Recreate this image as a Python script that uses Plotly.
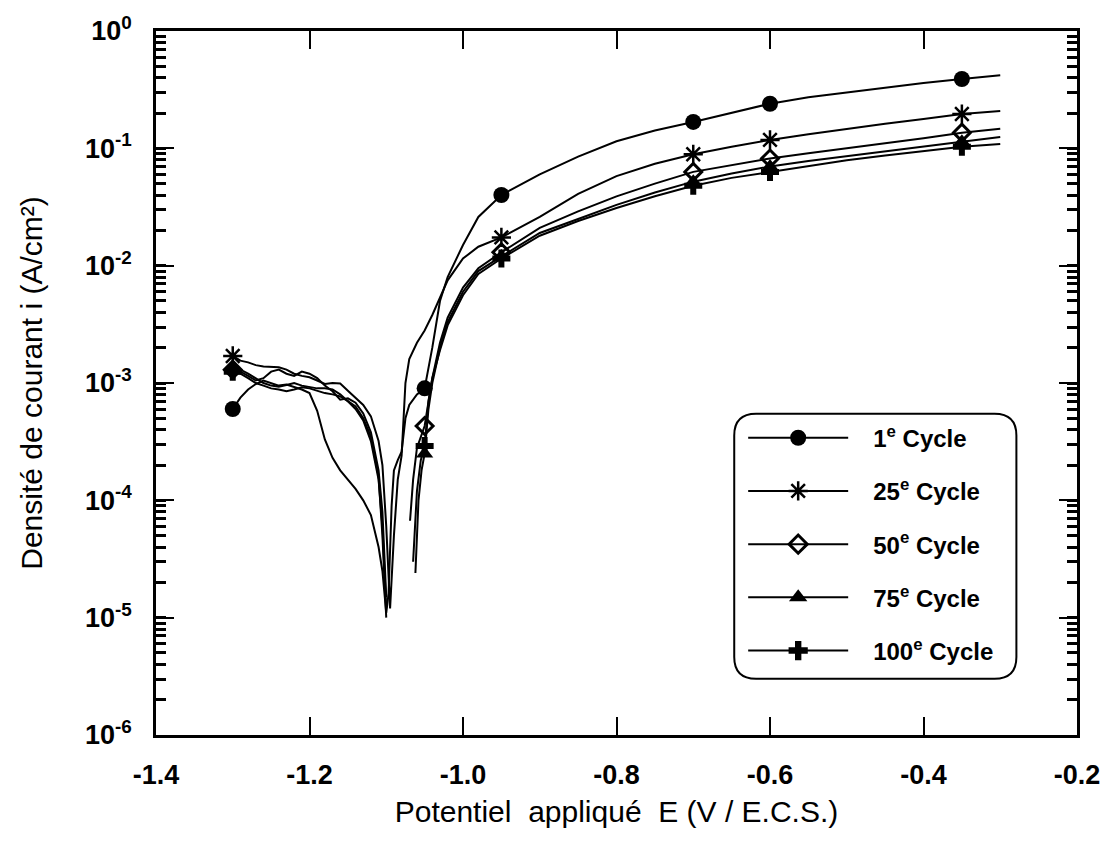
import plotly.graph_objects as go

# Potentiodynamic polarisation curves
E_1 = [-1.30, -1.29, -1.28, -1.27, -1.26, -1.25, -1.24, -1.23, -1.22, -1.21,
       -1.20, -1.19, -1.18, -1.17, -1.16, -1.15, -1.14, -1.13, -1.12, -1.11,
       -1.105, -1.10, -1.097, -1.093, -1.09, -1.085, -1.08, -1.075, -1.07, -1.06,
       -1.05, -1.04, -1.03, -1.02, -1.00, -0.98, -0.95, -0.90, -0.85, -0.80,
       -0.75, -0.70, -0.65, -0.60, -0.55, -0.50, -0.45, -0.40, -0.35, -0.30]
I_1 = [6.0e-4, 7.5e-4, 8.8e-4, 9.8e-4, 1.05e-3, 1.0e-3, 9.5e-4, 9.7e-4, 9.2e-4, 8.8e-4,
       8.2e-4, 5.8e-4, 3.3e-4, 2.3e-4, 1.8e-4, 1.5e-4, 1.25e-4, 1.0e-4, 7.5e-5, 4.0e-5,
       2.5e-5, 1.1e-5, 1.6e-5, 9e-5, 1.8e-4, 2.2e-4, 2.6e-4, 5.0e-4, 6.5e-4, 8.0e-4,
       9.0e-4, 2.0e-3, 5.0e-3, 8.0e-3, 1.5e-2, 2.6e-2, 4.0e-2, 6.0e-2, 8.5e-2, 1.15e-1,
       1.42e-1, 1.68e-1, 2.0e-1, 2.4e-1, 2.72e-1, 3.0e-1, 3.3e-1, 3.6e-1, 3.9e-1, 4.2e-1]

E_25 = [-1.30, -1.29, -1.28, -1.27, -1.26, -1.25, -1.24, -1.23, -1.22, -1.21,
        -1.20, -1.19, -1.18, -1.17, -1.16, -1.15, -1.14, -1.13, -1.12, -1.11,
        -1.105, -1.10, -1.095, -1.09, -1.085, -1.08, -1.075, -1.07, -1.06, -1.05,
        -1.04, -1.02, -1.00, -0.98, -0.95, -0.90, -0.85, -0.80, -0.75, -0.70,
        -0.65, -0.60, -0.55, -0.50, -0.45, -0.40, -0.35, -0.30]
I_25 = [1.7e-3, 1.55e-3, 1.5e-3, 1.42e-3, 1.38e-3, 1.37e-3, 1.36e-3, 1.3e-3, 1.2e-3, 1.15e-3,
        1.12e-3, 1.05e-3, 9.8e-4, 1.0e-3, 9.9e-4, 8.6e-4, 7.5e-4, 6.5e-4, 5.2e-4, 3.2e-4,
        2.0e-4, 6e-5, 1.2e-5, 5e-5, 1.5e-4, 2.4e-4, 1.0e-3, 1.6e-3, 2.2e-3, 2.8e-3,
        3.8e-3, 7.5e-3, 1.15e-2, 1.45e-2, 1.74e-2, 2.6e-2, 4.1e-2, 5.8e-2, 7.4e-2, 8.9e-2,
        1.03e-1, 1.18e-1, 1.32e-1, 1.47e-1, 1.62e-1, 1.78e-1, 1.96e-1, 2.08e-1]

# cathodic branch (shared potentials) for the later cycles
E_CATH = [-1.30, -1.29, -1.28, -1.27, -1.26, -1.25, -1.24, -1.23, -1.22, -1.21,
          -1.20, -1.19, -1.18, -1.17, -1.16, -1.15, -1.14, -1.13, -1.12, -1.11,
          -1.105, -1.10]

I_50_CATH = [1.3e-3, 1.25e-3, 1.15e-3, 1.05e-3, 1.1e-3, 1.25e-3, 1.3e-3, 1.2e-3, 1.15e-3, 1.25e-3,
             1.2e-3, 1.1e-3, 9.5e-4, 8.5e-4, 7.2e-4, 7.4e-4, 6.8e-4, 5.5e-4, 3.8e-4, 1.8e-4,
             8e-5, 1.5e-5]
E_50_AN = [-1.069, -1.065, -1.06, -1.05, -1.04, -1.03, -1.02, -1.00, -0.98, -0.95, -0.90, -0.85,
           -0.80, -0.75, -0.70, -0.65, -0.60, -0.55, -0.50, -0.45, -0.40, -0.35, -0.30]
I_50_AN = [6.7e-5, 1.5e-4, 2.8e-4, 4.3e-4, 1.1e-3, 2.2e-3, 3.6e-3, 6.5e-3, 9.5e-3, 1.3e-2, 2.1e-2, 2.9e-2,
           3.9e-2, 5.0e-2, 6.3e-2, 7.2e-2, 8.2e-2, 9.1e-2, 1.0e-1, 1.1e-1, 1.22e-1, 1.36e-1, 1.47e-1]

I_75_CATH = [1.35e-3, 1.3e-3, 1.2e-3, 1.1e-3, 1.0e-3, 9.5e-4, 9.3e-4, 9.6e-4, 1.0e-3, 9.5e-4,
             9.2e-4, 9.0e-4, 9.0e-4, 8.8e-4, 8.0e-4, 7.0e-4, 6.0e-4, 4.8e-4, 3.2e-4, 1.5e-4,
             6e-5, 1.2e-5]
E_75_AN = [-1.062, -1.058, -1.054, -1.05, -1.045, -1.04, -1.03, -1.02, -1.00, -0.98, -0.95, -0.90,
           -0.85, -0.80, -0.75, -0.70, -0.65, -0.60, -0.55, -0.50, -0.45, -0.40, -0.35, -0.30]
I_75_AN = [2.4e-5, 1.0e-4, 1.8e-4, 2.5e-4, 6e-4, 1.0e-3, 2.0e-3, 3.3e-3, 6.0e-3, 9.0e-3, 1.2e-2, 1.9e-2,
           2.5e-2, 3.3e-2, 4.2e-2, 5.2e-2, 6.1e-2, 7.0e-2, 7.8e-2, 8.6e-2, 9.5e-2, 1.04e-1, 1.14e-1, 1.25e-1]

I_100_CATH = [1.25e-3, 1.2e-3, 1.1e-3, 1.0e-3, 9.5e-4, 9.0e-4, 8.8e-4, 8.5e-4, 8.8e-4, 9.2e-4,
              9.0e-4, 8.6e-4, 8.2e-4, 8.0e-4, 7.7e-4, 7.0e-4, 6.3e-4, 5.0e-4, 3.5e-4, 1.6e-4,
              5e-5, 1.0e-5]
E_100_AN = [-1.065, -1.06, -1.055, -1.05, -1.045, -1.04, -1.03, -1.02, -1.00, -0.98, -0.95, -0.90,
            -0.85, -0.80, -0.75, -0.70, -0.65, -0.60, -0.55, -0.50, -0.45, -0.40, -0.35, -0.30]
I_100_AN = [3e-5, 1.2e-4, 2.2e-4, 2.9e-4, 7e-4, 1.1e-3, 1.9e-3, 3.1e-3, 5.6e-3, 8.5e-3, 1.15e-2, 1.8e-2,
            2.4e-2, 3.1e-2, 3.9e-2, 4.8e-2, 5.6e-2, 6.3e-2, 7.1e-2, 7.9e-2, 8.7e-2, 9.5e-2, 1.03e-1, 1.09e-1]

# potentials where the symbols were plotted, per cycle
MARK_E = [-1.30, -1.05, -0.95, -0.70, -0.60, -0.35]
MARK_E_25 = [-1.30, -0.95, -0.70, -0.60, -0.35]

CYCLES = ["1<sup>e</sup> Cycle", "25<sup>e</sup> Cycle", "50<sup>e</sup> Cycle",
          "75<sup>e</sup> Cycle", "100<sup>e</sup> Cycle"]
X_TICKS = [-1.4, -1.2, -1.0, -0.8, -0.6, -0.4, -0.2]
X_LABELS = ["-1.4", "-1.2", "-1.0", "-0.8", "-0.6", "-0.4", "-0.2"]
Y_TICKS = [1e-6, 1e-5, 1e-4, 1e-3, 1e-2, 1e-1, 1]
Y_LABELS = ["10<sup>-6</sup>", "10<sup>-5</sup>", "10<sup>-4</sup>", "10<sup>-3</sup>",
            "10<sup>-2</sup>", "10<sup>-1</sup>", "10<sup>0</sup>"]

series = [
    (E_1, I_1, MARK_E),
    (E_25, I_25, MARK_E_25),
    (E_CATH + [None] + E_50_AN, I_50_CATH + [None] + I_50_AN, MARK_E),
    (E_CATH + [None] + E_75_AN, I_75_CATH + [None] + I_75_AN, MARK_E),
    (E_CATH + [None] + E_100_AN, I_100_CATH + [None] + I_100_AN, MARK_E),
]
symbols = ["circle", "asterisk-open", "diamond-open", "triangle-up", "cross"]
sizes = [16, 16, 13, 15, 15]
line_w = [0, 2.5, 3, 0, 0]
legend_sizes = [16, 16, 14, 16, 16]

fig = go.Figure()
for k, (e, i, marks) in enumerate(series):
    msize = [sizes[k] if (v is not None and round(v, 3) in marks) else 0 for v in e]
    fig.add_trace(go.Scatter(
        x=e, y=i, mode="lines+markers", showlegend=False, legendgroup=str(k),
        connectgaps=False,
        line=dict(color="black", width=2),
        marker=dict(symbol=symbols[k], size=msize, color="black", opacity=1,
                    line=dict(color="black", width=line_w[k])),
        hoverinfo="skip"))
    # legend entry only
    fig.add_trace(go.Scatter(
        x=[None], y=[None], mode="lines+markers",
        name="\u00a0\u00a0\u00a0" + CYCLES[k], legendgroup=str(k),
        line=dict(color="black", width=2),
        marker=dict(symbol=symbols[k], size=legend_sizes[k], color="black", opacity=1,
                    line=dict(color="black", width=line_w[k]))))

# plot area in pixels
L, R, T, B = 156, 29, 23, 106
W, H = 1112, 841
pw, ph = W - L - R, H - T - B


def px(x):
    return (x - L) / pw


def py(y):
    return 1 - (y - T) / ph


# rounded legend frame
x0, x1, y0, y1 = px(738), px(1022), py(678), py(410)
rx, ry = 22 / pw, 22 / ph
path = (f"M{x0+rx},{y1} L{x1-rx},{y1} Q{x1},{y1} {x1},{y1-ry} "
        f"L{x1},{y0+ry} Q{x1},{y0} {x1-rx},{y0} L{x0+rx},{y0} "
        f"Q{x0},{y0} {x0},{y0+ry} L{x0},{y1-ry} Q{x0},{y1} {x0+rx},{y1} Z")
fig.add_shape(type="path", path=path, xref="paper", yref="paper",
              line=dict(color="black", width=2), fillcolor="rgba(0,0,0,0)", layer="above")

font = "Liberation Sans, Arial, sans-serif"
fig.update_layout(
    width=W, height=H,
    margin=dict(l=L, r=R, t=T, b=B),
    paper_bgcolor="white", plot_bgcolor="white",
    font=dict(family=font, color="black"),
    legend=dict(x=px(747), y=py(412), xanchor="left", yanchor="top",
                bgcolor="rgba(0,0,0,0)", borderwidth=0,
                font=dict(size=24, weight="bold", family=font),
                traceorder="grouped", tracegroupgap=19, itemwidth=100,
                itemclick=False, itemdoubleclick=False),
)
fig.update_xaxes(
    range=[-1.4, -0.2], tickvals=X_TICKS, ticktext=X_LABELS,
    ticks="inside", ticklen=18, tickwidth=1.5, tickcolor="black",
    showline=True, linewidth=2.5, linecolor="black", mirror="ticks",
    showgrid=False, zeroline=False, ticklabelstandoff=14,
    tickfont=dict(size=27, weight="bold", family=font),
    title=dict(text="Potentiel\u00a0\u00a0appliqué\u00a0\u00a0E (V / E.C.S.)",
               font=dict(size=30, family=font), standoff=12),
)
fig.update_yaxes(
    type="log", range=[-6, 0], tickvals=Y_TICKS, ticktext=Y_LABELS,
    ticks="inside", ticklen=18, tickwidth=1.5, tickcolor="black",
    minor=dict(ticks="inside", ticklen=10, tickwidth=2.5, tickcolor="black",
               dtick="D1", showgrid=False),
    showline=True, linewidth=2.5, linecolor="black", mirror="ticks",
    showgrid=False, zeroline=False, ticklabelstandoff=16,
    tickfont=dict(size=27, weight="bold", family=font),
    title=dict(text="Densité de courant i (A/cm²)", font=dict(size=30, family=font), standoff=34),
)

fig.write_html("out.html", config={"displayModeBar": False},
               post_script="document.body.style.margin='0';")
